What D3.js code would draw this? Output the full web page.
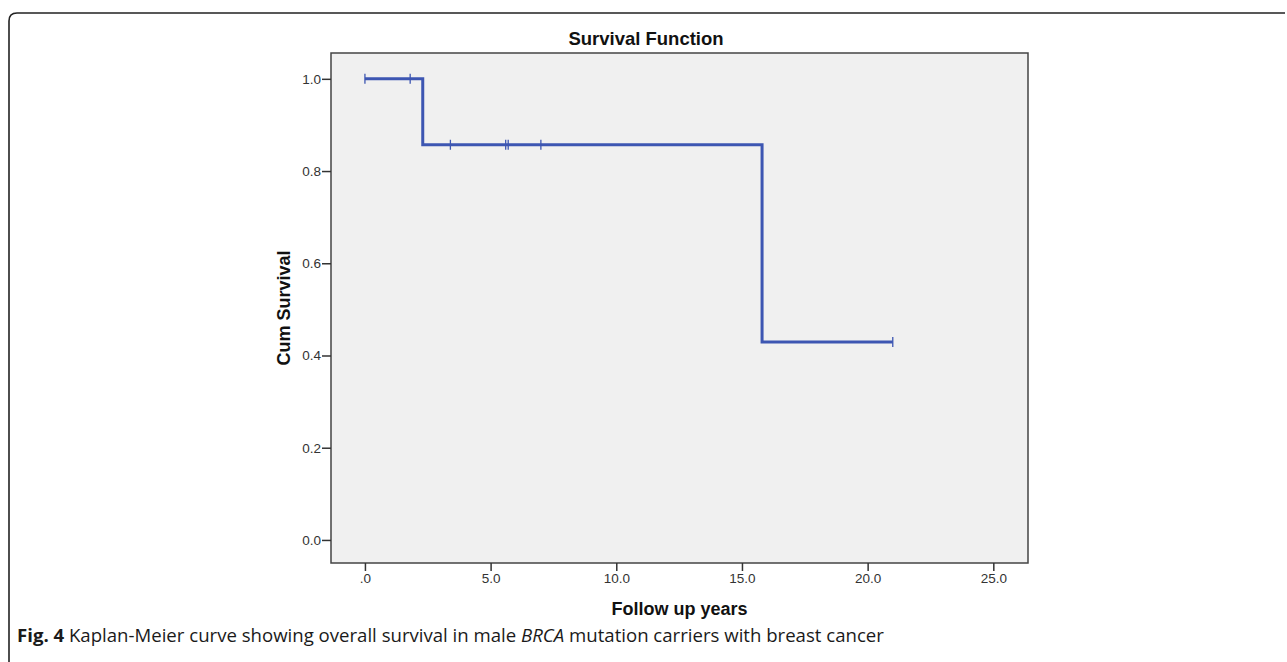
<!DOCTYPE html>
<html>
<head>
<meta charset="utf-8">
<script src="https://cdnjs.cloudflare.com/ajax/libs/d3/7.8.5/d3.min.js"></script>
<style>
  body { margin: 0; background: #fff; }
  svg { display: block; }
</style>
</head>
<body>
<div id="chart"></div>
<script>
// Kaplan-Meier step curve (time in years, cumulative survival)
const stepTimes = [0, 2.3, 15.8, 21.0];
const stepSurv = [1.0, 0.857, 0.429, 0.429];

// Censored observations
const censorTimes = [0, 1.8, 3.4, 5.6, 5.7, 7.0, 21.0];
const censorSurv = [1.0, 1.0, 0.857, 0.857, 0.857, 0.857, 0.429];

// Axis ticks
const xTicks = [0, 5, 10, 15, 20, 25];
const yTicks = [0, 0.2, 0.4, 0.6, 0.8, 1.0];

const width = 1287, height = 662;
const plot = { left: 331, right: 1028, top: 53, bottom: 563 };
const lineColor = '#3d56b2';
const chartFont = '"Liberation Sans", Arial, sans-serif';

const svg = d3.select('#chart')
    .append('svg')
    .attr('width', width)
    .attr('height', height);

// Outer frame: top and left edges with a rounded corner
svg.append('path')
    .attr('d', `M9,${height + 5} L9,21 Q9,13 17,13 L1285,13`)
    .attr('fill', 'none')
    .attr('stroke', '#222')
    .attr('stroke-width', 1.6);

const x = d3.scaleLinear()
    .domain([-1.35, 26.38])
    .range([plot.left, plot.right]);

const y = d3.scaleLinear()
    .domain([-0.05, 1.056])
    .range([plot.bottom, plot.top]);

// Plot background
svg.append('rect')
    .attr('x', plot.left)
    .attr('y', plot.top)
    .attr('width', plot.right - plot.left)
    .attr('height', plot.bottom - plot.top)
    .attr('fill', '#f0f0f0')
    .attr('stroke', '#444')
    .attr('stroke-width', 1.5);

// Axes
const xAxis = svg.append('g')
    .attr('transform', `translate(0, ${plot.bottom})`)
    .call(d3.axisBottom(x)
        .tickValues(xTicks)
        .tickSize(8)
        .tickPadding(2)
        .tickFormat(d => d === 0 ? '.0' : d.toFixed(1)));

const yAxis = svg.append('g')
    .attr('transform', `translate(${plot.left}, 0)`)
    .call(d3.axisLeft(y)
        .tickValues(yTicks)
        .tickSize(9)
        .tickPadding(1)
        .tickFormat(d => d.toFixed(1)));

[xAxis, yAxis].forEach(g => {
    g.select('.domain').remove();
    g.selectAll('.tick line').attr('stroke', '#333').attr('stroke-width', 1.5);
    g.selectAll('.tick text')
        .attr('fill', '#333')
        .style('font-family', chartFont)
        .style('font-size', '13.5px');
});

// Survival curve
const pts = stepTimes.map((t, i) => [t, stepSurv[i]]);
const line = d3.line()
    .x(d => x(d[0]))
    .y(d => y(d[1]))
    .curve(d3.curveStepAfter);

svg.append('path')
    .datum(pts)
    .attr('d', line)
    .attr('fill', 'none')
    .attr('stroke', lineColor)
    .attr('stroke-width', 3);

// Censor marks
svg.selectAll('.censor')
    .data(censorTimes.map((t, i) => [t, censorSurv[i]]))
    .enter()
    .append('line')
    .attr('class', 'censor')
    .attr('x1', d => x(d[0]))
    .attr('x2', d => x(d[0]))
    .attr('y1', d => y(d[1]) - 5)
    .attr('y2', d => y(d[1]) + 5)
    .attr('stroke', lineColor)
    .attr('stroke-width', 1.3);

// Titles
svg.append('text')
    .attr('x', 646)
    .attr('y', 45)
    .attr('text-anchor', 'middle')
    .style('font-family', chartFont)
    .style('font-weight', 'bold')
    .style('font-size', '18.5px')
    .attr('fill', '#111')
    .text('Survival Function');

svg.append('text')
    .attr('x', (plot.left + plot.right) / 2)
    .attr('y', 615)
    .attr('text-anchor', 'middle')
    .style('font-family', chartFont)
    .style('font-weight', 'bold')
    .style('font-size', '18px')
    .attr('fill', '#111')
    .text('Follow up years');

svg.append('text')
    .attr('transform', `translate(290, ${(plot.top + plot.bottom) / 2}) rotate(-90)`)
    .attr('text-anchor', 'middle')
    .style('font-family', chartFont)
    .style('font-weight', 'bold')
    .style('font-size', '18px')
    .attr('fill', '#111')
    .text('Cum Survival');

// Caption
const caption = svg.append('text')
    .attr('x', 17)
    .attr('y', 642)
    .style('font-family', '"Open Sans", sans-serif')
    .style('font-size', '18.6px')
    .attr('fill', '#1a1a1a');

caption.append('tspan').style('font-weight', 'bold').text('Fig. 4');
caption.append('tspan').text(' Kaplan-Meier curve showing overall survival in male ');
caption.append('tspan').style('font-style', 'italic').text('BRCA');
caption.append('tspan').text(' mutation carriers with breast cancer');
</script>
</body>
</html>
